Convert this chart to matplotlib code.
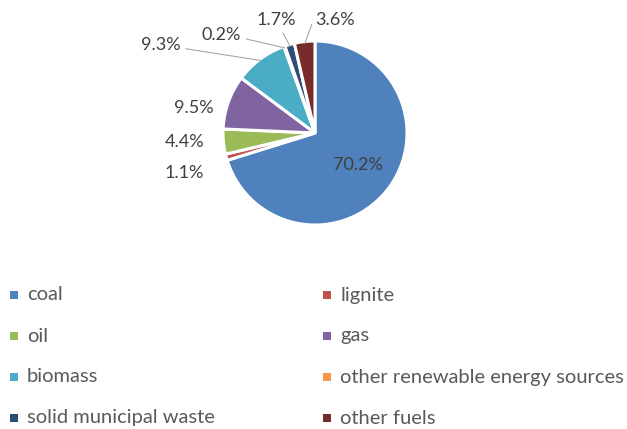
import matplotlib
matplotlib.use("Agg")
import matplotlib.pyplot as plt
import numpy as np
from matplotlib.patches import Rectangle

categories = ["coal", "lignite", "oil", "gas", "biomass",
              "other renewable energy sources", "solid municipal waste", "other fuels"]
shares = [70.2, 1.1, 4.4, 9.5, 9.3, 0.2, 1.7, 3.6]
colors = ["#4F81BD", "#C0504D", "#9BBB59", "#8064A2", "#4BACC6",
          "#F79646", "#2C4D75", "#772C2A"]

# label text positions (in pie-radius units), leader-line anchor on the text box
label_pos = [(0.47, -0.35), (-1.42, -0.43), (-1.42, -0.10), (-1.32, 0.27),
             (-1.68, 0.96), (-1.02, 1.07), (-0.42, 1.23), (0.22, 1.23)]
leader_rel = [None, None, None, None, (1.0, 0.3), (1.0, 0.3), (0.6, 0.0), (0.0, 0.45)]
leader_conn = [None, None, None, None, "arc3", "arc3",
               "arc3", "angle,angleA=0,angleB=70,rad=0"]

plt.rcParams['font.family'] = ['Lato', 'DejaVu Sans']
W, H = 627, 429
fig = plt.figure(figsize=(W / 100, H / 100), dpi=100)

cx, cy, r = 315, 133, 92
ax = fig.add_axes([(cx - r) / W, (H - cy - r) / H, 2 * r / W, 2 * r / H])
wedges, _ = ax.pie(shares, colors=colors, startangle=90, counterclock=False,
                   wedgeprops=dict(edgecolor="white", linewidth=2.2))
ax.set_xlim(-1, 1)
ax.set_ylim(-1, 1)
ax.set_aspect("equal")
ax.axis("off")

txtcol = "#404040"
fs = 13
for w, v, (tx, ty), rel, conn in zip(wedges, shares, label_pos, leader_rel, leader_conn):
    lab = f"{v:.1f}%"
    if rel is not None:
        ang = np.deg2rad((w.theta1 + w.theta2) / 2)
        px, py = 0.98 * np.cos(ang), 0.98 * np.sin(ang)
        ax.annotate(lab, xy=(px, py), xytext=(tx, ty), ha="center", va="center",
                    fontsize=fs, color=txtcol, annotation_clip=False,
                    arrowprops=dict(arrowstyle="-", color="#A6A6A6", lw=0.8,
                                    shrinkA=2, shrinkB=0, relpos=rel,
                                    connectionstyle=conn))
    else:
        ax.text(tx, ty, lab, ha="center", va="center", fontsize=fs,
                color=txtcol, clip_on=False)

# legend, two columns
rows_y = [295, 336, 377, 418]
cols_x = [10, 323]
for i, (c, col) in enumerate(zip(categories, colors)):
    x = cols_x[i % 2]
    y = rows_y[i // 2]
    fig.patches.append(Rectangle((x / W, (H - y - 4) / H), 8 / W, 8 / H,
                                 transform=fig.transFigure, facecolor=col,
                                 edgecolor="none"))
    fig.text((x + 17) / W, (H - y) / H, c, ha="left", va="center",
             fontsize=14.5, color="#595959")

fig.savefig("out.png", dpi=100)
